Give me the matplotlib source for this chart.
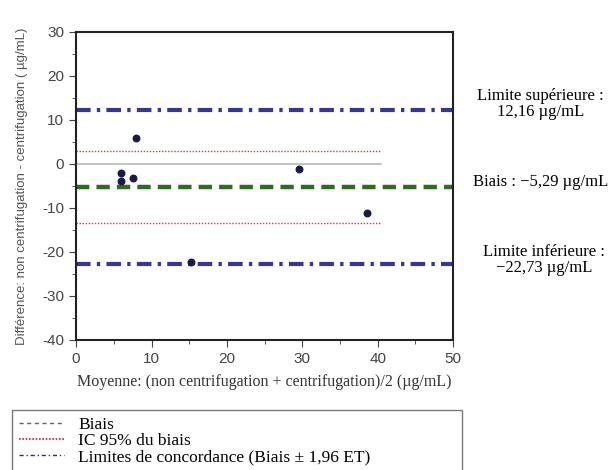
import matplotlib
matplotlib.use('Agg')
import matplotlib.pyplot as plt
from matplotlib.lines import Line2D
from matplotlib.ticker import MultipleLocator

# Bland-Altman data
moyenne = [6.0, 6.0, 7.5, 8.0, 15.2, 29.6, 38.6]
difference = [-2.0, -4.0, -3.2, 5.9, -22.2, -1.2, -11.1]
biais = -5.29
ic_bas, ic_haut = -13.5, 3.0
lim_sup, lim_inf = 12.16, -22.73
ic_xmax = 40.5

plt.rcParams['font.family'] = ['Liberation Serif', 'DejaVu Serif']
plt.rcParams['axes.unicode_minus'] = False

fig = plt.figure(figsize=(6.09, 4.70), dpi=100)
ax = fig.add_axes([0.125, 0.277, 0.619, 0.655])

ax.plot([0, ic_xmax], [0, 0], color='#b8b8b8', lw=1.2, zorder=1)
ax.plot([0, ic_xmax], [ic_haut, ic_haut], color='#c84040', lw=1.0, ls=(0, (1, 1.2)))
ax.plot([0, ic_xmax], [ic_bas, ic_bas], color='#c84040', lw=1.0, ls=(0, (1, 1.2)))
ax.axhline(biais, color='#2f6b22', lw=3.2, ls=(0, (3, 1.6)))
ax.axhline(lim_sup, color='#35359a', lw=3.0, ls=(0, (3.5, 1.5, 0.8, 1.5)))
ax.axhline(lim_inf, color='#35359a', lw=3.0, ls=(0, (3.5, 1.5, 0.8, 1.5)))
ax.scatter(moyenne, difference, s=22, color='#1a1a4a', zorder=5)

ax.set_xlim(0, 50)
ax.set_ylim(-40, 30)
ax.xaxis.set_major_locator(MultipleLocator(10))
ax.xaxis.set_minor_locator(MultipleLocator(5))
ax.yaxis.set_major_locator(MultipleLocator(10))
ax.yaxis.set_minor_locator(MultipleLocator(5))
ax.tick_params(which='both', direction='out', labelsize=11, colors='#444444')
ax.tick_params(which='major', length=5)
ax.tick_params(which='minor', length=3)
for lab in ax.get_xticklabels() + ax.get_yticklabels():
    lab.set_family(['Liberation Sans', 'DejaVu Sans'])
for s in ax.spines.values():
    s.set_linewidth(1.5)
    s.set_color('#222222')

ax.set_xlabel('Moyenne: (non centrifugation + centrifugation)/2 (µg/mL)',
              fontsize=11.5, color='#333333', labelpad=6)
ax.set_ylabel('Différence: non centrifugation - centrifugation ( µg/mL)',
              fontsize=9.5, color='#555555', labelpad=10,
              family=['Liberation Sans', 'DejaVu Sans'])

fig.text(0.887, 0.778, 'Limite supérieure :\n12,16 µg/mL', ha='center', va='center',
         fontsize=12, linespacing=1.0)
fig.text(0.887, 0.612, 'Biais : \u22125,29 µg/mL', ha='center', va='center', fontsize=12)
fig.text(0.893, 0.446, 'Limite inférieure :\n\u221222,73 µg/mL', ha='center', va='center',
         fontsize=12, linespacing=1.0)

handles = [
    Line2D([], [], color='#6a6a50', lw=1.0, ls=(0, (3, 2.5))),
    Line2D([], [], color='#d02020', lw=1.2, ls=(0, (1, 1))),
    Line2D([], [], color='#303060', lw=1.0, ls=(0, (3, 2, 1, 2))),
]
labels = ['Biais', 'IC 95% du biais', 'Limites de concordance (Biais ± 1,96 ET)']
leg = fig.legend(handles, labels, loc='upper left',
                 bbox_to_anchor=(0.02, 0.128, 0.738, 0.0), mode='expand',
                 borderaxespad=0.0,
                 fontsize=12.5, frameon=True, fancybox=False, handlelength=2.6,
                 labelspacing=0.0, borderpad=0.4, handletextpad=0.8)
leg.get_frame().set_edgecolor('#555555')
leg.get_frame().set_linewidth(1.0)

fig.savefig('out.png', dpi=100)
